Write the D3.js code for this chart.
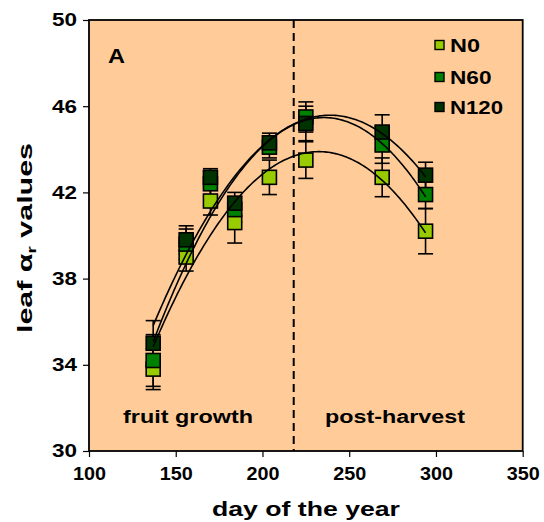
<!DOCTYPE html>
<html>
<head>
<meta charset="utf-8">
<script src="https://cdn.jsdelivr.net/npm/d3@7"></script>
<style>
  body { margin: 0; background: #ffffff; }
  text { font-family: "Liberation Sans", Arial, sans-serif; font-weight: bold; fill: #000; }
</style>
</head>
<body>
<svg id="chart" width="544" height="522"></svg>
<script>
// Sampling days (day of the year)
const days = [137, 156, 170, 184, 204, 225, 269, 294];

// Leaf alpha_r means per nitrogen treatment
const seriesNames = ["N0", "N60", "N120"];
const n0   = [33.8, 39.0, 41.6, 40.6, 42.7, 43.5, 42.7, 40.2];
const n60  = [34.2, 39.6, 42.4, 41.2, 44.1, 45.5, 44.2, 41.9];
const n120 = [35.0, 39.8, 42.7, 41.5, 44.3, 45.2, 44.8, 42.8];

// Error bar half-widths
const n0Err   = [0.95, 0.65, 0.65, 0.95, 0.8, 0.85, 0.9, 1.05];
const n60Err  = [1.2, 0.7, 0.6, 0.6, 0.5, 0.7, 0.85, 0.65];
const n120Err = [1.05, 0.65, 0.4, 0.5, 0.45, 0.8, 0.8, 0.6];

const seriesColors = ["#99CC00", "#008000", "#003300"];

const xTicks = [100, 150, 200, 250, 300, 350];
const yTicks = [30, 34, 38, 42, 46, 50];
const harvestDay = 218;

const svg = d3.select("#chart");
const plotL = 89, plotR = 522.7, plotT = 20, plotB = 451;

const x = d3.scaleLinear().domain([100, 350]).range([plotL, plotR]);
const y = d3.scaleLinear().domain([30, 50]).range([plotB, plotT]);

// plot background
svg.append("rect").attr("x", plotL).attr("y", plotT)
  .attr("width", plotR - plotL).attr("height", plotB - plotT)
  .attr("fill", "#FFCC99");

// axes
const xAxis = svg.append("g").attr("transform", `translate(0,${plotB})`)
  .call(d3.axisBottom(x).tickValues(xTicks).tickSize(6).tickPadding(10).tickSizeOuter(0));
const yAxis = svg.append("g").attr("transform", `translate(${plotL},0)`)
  .call(d3.axisLeft(y).tickValues(yTicks).tickSize(6).tickPadding(6).tickSizeOuter(0));
[xAxis, yAxis].forEach(g => {
  g.select(".domain").remove();
  g.selectAll(".tick line").attr("stroke", "#000").attr("stroke-width", 1.2);
  g.selectAll(".tick text")
    .attr("font-family", "Liberation Sans, Arial, sans-serif")
    .attr("font-weight", "bold").attr("fill", "#000")
    .attr("lengthAdjust", "spacingAndGlyphs");
});
xAxis.selectAll(".tick text").attr("font-size", 18).attr("textLength", d => String(d).length * 11);
yAxis.selectAll(".tick text").attr("font-size", 18.5).attr("textLength", d => String(d).length * 12.5);

// harvest divider
svg.append("line")
  .attr("x1", x(harvestDay)).attr("x2", x(harvestDay))
  .attr("y1", plotT).attr("y2", plotB)
  .attr("stroke", "#000").attr("stroke-width", 2).attr("stroke-dasharray", "8,5");

// period labels
svg.append("text").attr("x", 123).attr("y", 423).attr("font-size", 18)
  .attr("textLength", 130).attr("lengthAdjust", "spacingAndGlyphs").text("fruit growth");
svg.append("text").attr("x", 325).attr("y", 423).attr("font-size", 18)
  .attr("textLength", 140).attr("lengthAdjust", "spacingAndGlyphs").text("post-harvest");

// panel letter
svg.append("text").attr("x", 108).attr("y", 63).attr("font-size", 21)
  .attr("textLength", 17).attr("lengthAdjust", "spacingAndGlyphs").text("A");

const values = [n0, n60, n120];
const errs = [n0Err, n60Err, n120Err];

// error bars
const capW = 15;
values.forEach((vals, s) => {
  const g = svg.append("g").attr("stroke", "#000").attr("stroke-width", 1.6);
  vals.forEach((v, i) => {
    const cx = x(days[i]);
    const hi = y(v + errs[s][i]), lo = y(v - errs[s][i]);
    g.append("line").attr("x1", cx).attr("x2", cx).attr("y1", hi).attr("y2", lo);
    g.append("line").attr("x1", cx - capW / 2).attr("x2", cx + capW / 2).attr("y1", hi).attr("y2", hi);
    g.append("line").attr("x1", cx - capW / 2).attr("x2", cx + capW / 2).attr("y1", lo).attr("y2", lo);
  });
});

// markers
const ms = 14;
values.forEach((vals, s) => {
  svg.append("g").selectAll("rect").data(vals).join("rect")
    .attr("x", (d, i) => x(days[i]) - ms / 2)
    .attr("y", d => y(d) - ms / 2)
    .attr("width", ms).attr("height", ms)
    .attr("fill", seriesColors[s]).attr("stroke", "#000").attr("stroke-width", 1.6);
});

// least-squares polynomial trend lines
function polyfit(xs, ys, deg) {
  const n = deg + 1;
  const A = Array.from({length: n}, () => new Array(n + 1).fill(0));
  xs.forEach((xv, k) => {
    const t = (xv - 200) / 100;
    for (let r = 0; r < n; r++) {
      for (let c = 0; c < n; c++) A[r][c] += Math.pow(t, r + c);
      A[r][n] += ys[k] * Math.pow(t, r);
    }
  });
  for (let i = 0; i < n; i++) {
    let p = i;
    for (let r = i + 1; r < n; r++) if (Math.abs(A[r][i]) > Math.abs(A[p][i])) p = r;
    [A[i], A[p]] = [A[p], A[i]];
    for (let r = 0; r < n; r++) {
      if (r === i) continue;
      const f = A[r][i] / A[i][i];
      for (let c = i; c <= n; c++) A[r][c] -= f * A[i][c];
    }
  }
  const coef = A.map((row, i) => row[n] / row[i]);
  return xv => { const t = (xv - 200) / 100; return coef.reduce((s, c, i) => s + c * Math.pow(t, i), 0); };
}
const trend = d3.line().x(d => x(d[0])).y(d => y(d[1]));
const span = d3.range(days[0], days[days.length - 1] + 0.01, 1);
values.forEach(vals => {
  const f = polyfit(days, vals, 2);
  svg.append("path").datum(span.map(d => [d, f(d)]))
    .attr("d", trend).attr("fill", "none").attr("stroke", "#000").attr("stroke-width", 1.6);
});

// plot frame
svg.append("rect").attr("x", plotL).attr("y", plotT)
  .attr("width", plotR - plotL).attr("height", plotB - plotT)
  .attr("fill", "none").attr("stroke", "#000").attr("stroke-width", 1.8);

// legend
const legY = [45, 77, 107];
seriesNames.forEach((name, s) => {
  svg.append("rect").attr("x", 435).attr("y", legY[s] - 4.5).attr("width", 9).attr("height", 9)
    .attr("fill", seriesColors[s]).attr("stroke", "#000").attr("stroke-width", 1.4);
  svg.append("text").attr("x", 450).attr("y", legY[s] + 6.5).attr("font-size", 18)
    .attr("textLength", [30, 41.5, 53][s]).attr("lengthAdjust", "spacingAndGlyphs").text(name);
});

// axis titles
svg.append("text").attr("x", 212).attr("y", 516).attr("font-size", 21)
  .attr("textLength", 188).attr("lengthAdjust", "spacingAndGlyphs").text("day of the year");

const yt = svg.append("text").attr("transform", "translate(32,238) rotate(-90)")
  .attr("text-anchor", "middle").attr("font-size", 21)
  .attr("textLength", 190).attr("lengthAdjust", "spacingAndGlyphs");
yt.append("tspan").text("leaf ");
yt.append("tspan").text("\u03B1");
yt.append("tspan").attr("font-size", 13).attr("dy", 4).text("r");
yt.append("tspan").attr("dy", -4).text(" values");
</script>
</body>
</html>
